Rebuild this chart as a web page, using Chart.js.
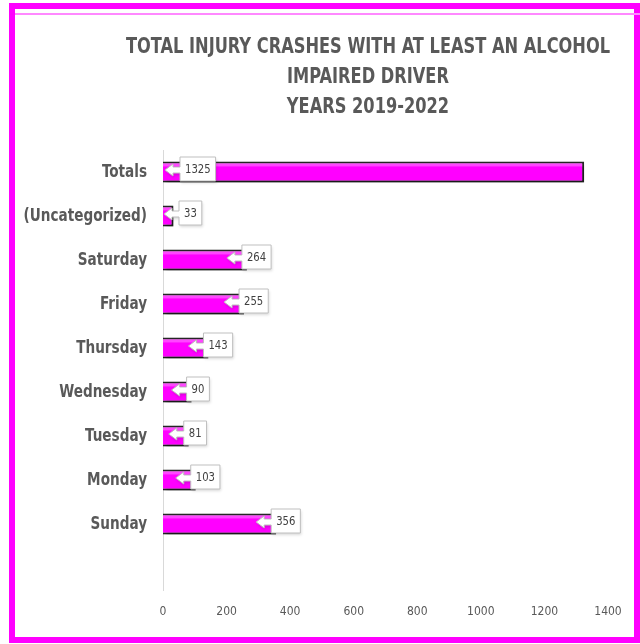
<!DOCTYPE html>
<html>
<head>
<meta charset="utf-8">
<title>Injury crashes with an alcohol impaired driver</title>
<script src="https://cdn.jsdelivr.net/npm/chart.js@4"></script>
<style>
    html, body { margin: 0; padding: 0; background: #fff; }
    #wrap { position: relative; width: 640px; height: 644px; overflow: hidden; }
    #chart { position: absolute; left: 0; top: 0; }
    #frame {
        position: absolute; left: 9px; top: 3px; width: 631px; height: 640px;
        box-sizing: border-box; border: 6px solid #ff00ff; pointer-events: none;
    }
    #frameInner {
        position: absolute; left: 15px; top: 13px; width: 625px; height: 2px;
        background: #ff88ff; pointer-events: none;
    }
</style>
</head>
<body>
<div id="wrap">
    <canvas id="chart" width="640" height="644"></canvas>
    <div id="frame"></div>
    <div id="frameInner"></div>
</div>
<script>
// Chart data
const titleLines = [
    'TOTAL INJURY CRASHES WITH AT LEAST AN ALCOHOL',
    'IMPAIRED DRIVER',
    'YEARS 2019-2022'
];
// top to bottom; the last, empty row is the blank one under Sunday
const days = ['Totals', '(Uncategorized)', 'Saturday', 'Friday', 'Thursday',
              'Wednesday', 'Tuesday', 'Monday', 'Sunday', ''];
const crashes = [1325, 33, 264, 255, 143, 90, 81, 103, 356, null];
const axisMin = 0;
const axisMax = 1400;
const axisStep = 200;

const NARROW = '"DejaVu Sans Condensed", "Liberation Sans", sans-serif';
const GREY = '#595959';

// the reference uses a much narrower face than anything installed,
// so text is squeezed sideways when drawn
function squeezedText(ctx, text, x, y, squeeze) {
    ctx.save();
    ctx.translate(x, y);
    ctx.scale(squeeze, 1);
    ctx.fillText(text, 0, 0);
    ctx.restore();
}

// Title drawn by hand so it can sit over the plot rather than the canvas middle
const titlePlugin = {
    id: 'titleLines',
    afterDraw(chart) {
        const ctx = chart.ctx;
        ctx.save();
        ctx.fillStyle = GREY;
        ctx.font = 'bold 22px ' + NARROW;
        ctx.textAlign = 'center';
        ctx.textBaseline = 'middle';
        titleLines.forEach((line, i) => squeezedText(ctx, line, 368, 47 + i * 30, 0.82));
        ctx.restore();
    }
};

// Category names, squeezed like the title
const dayLabels = {
    id: 'dayLabels',
    afterDraw(chart) {
        const ctx = chart.ctx;
        const y = chart.scales.y;
        ctx.save();
        ctx.fillStyle = GREY;
        ctx.font = 'bold 18px ' + NARROW;
        ctx.textAlign = 'right';
        ctx.textBaseline = 'middle';
        days.forEach((day, i) => {
            if (!day) return;
            squeezedText(ctx, day, y.right - 16, y.getPixelForTick(i), 0.84);
        });
        ctx.restore();
    }
};

// Bar shadow, top highlight and the white arrow callouts
const barDecor = {
    id: 'barDecor',
    beforeDatasetsDraw(chart) {
        const ctx = chart.ctx;
        ctx.save();
        ctx.shadowColor = 'rgba(0, 0, 0, 0.35)';
        ctx.shadowBlur = 4;
        ctx.shadowOffsetX = 2;
        ctx.shadowOffsetY = 3;
    },
    afterDatasetsDraw(chart) {
        const ctx = chart.ctx;
        ctx.restore();

        const meta = chart.getDatasetMeta(0);
        const area = chart.chartArea;
        const base = chart.scales.x.getPixelForValue(0);

        meta.data.forEach((bar, i) => {
            const value = crashes[i];
            if (value === null || value === undefined) return;
            const half = bar.height / 2;

            // lighter stripe along the top of each bar
            ctx.save();
            ctx.fillStyle = 'rgba(255, 255, 255, 0.28)';
            ctx.fillRect(base, bar.y - half + 2, bar.x - base - 2, 3);
            ctx.restore();

            // callout box
            ctx.save();
            ctx.font = '13px ' + NARROW;
            const text = String(value);
            const w = ctx.measureText(text).width * 0.86 + 10;
            const h = 24;
            let bx;
            if (bar.x - base > area.width / 2) {
                bx = base + 17;
            } else {
                bx = Math.max(bar.x - 5, base + 16);
            }
            const by = bar.y - 15;
            const cy = by + h / 2 + 1;

            ctx.beginPath();
            ctx.moveTo(bx, by);
            ctx.lineTo(bx + w, by);
            ctx.lineTo(bx + w, by + h);
            ctx.lineTo(bx, by + h);
            ctx.lineTo(bx, cy + 3);
            ctx.lineTo(bx - 7, cy + 3);
            ctx.lineTo(bx - 7, cy + 6);
            ctx.lineTo(bx - 15, cy);
            ctx.lineTo(bx - 7, cy - 6);
            ctx.lineTo(bx - 7, cy - 3);
            ctx.lineTo(bx, cy - 3);
            ctx.closePath();
            ctx.shadowColor = 'rgba(0, 0, 0, 0.15)';
            ctx.shadowBlur = 3;
            ctx.shadowOffsetX = 1;
            ctx.shadowOffsetY = 2;
            ctx.fillStyle = '#ffffff';
            ctx.fill();
            ctx.shadowColor = 'transparent';
            ctx.strokeStyle = '#bfbfbf';
            ctx.lineWidth = 1;
            ctx.stroke();

            ctx.fillStyle = '#404040';
            ctx.textAlign = 'center';
            ctx.textBaseline = 'middle';
            squeezedText(ctx, text, bx + w / 2, by + h / 2 + 1, 0.86);
            ctx.restore();
        });
    }
};

new Chart(document.getElementById('chart'), {
    type: 'bar',
    data: {
        labels: days,
        datasets: [{
            data: crashes,
            backgroundColor: '#ff00ff',
            borderColor: '#262626',
            borderWidth: 2,
            borderSkipped: 'start',
            categoryPercentage: 1,
            barPercentage: 0.48
        }]
    },
    options: {
        indexAxis: 'y',
        responsive: false,
        animation: false,
        layout: {
            padding: { top: 150, right: 32, bottom: 0, left: 0 }
        },
        plugins: {
            legend: { display: false },
            title: { display: false },
            tooltip: { enabled: false }
        },
        scales: {
            x: {
                min: axisMin,
                max: axisMax,
                grid: { display: false, drawTicks: false },
                border: { display: false },
                ticks: {
                    stepSize: axisStep,
                    color: GREY,
                    padding: 15,
                    font: { family: NARROW, size: 12 },
                    callback: value => String(value)
                },
                afterFit(scale) { scale.height = 54; }
            },
            y: {
                grid: { display: false, drawTicks: false },
                border: { display: true, color: '#d9d9d9', width: 1 },
                ticks: { display: false },
                afterFit(scale) { scale.width = 163; }
            }
        }
    },
    plugins: [barDecor, dayLabels, titlePlugin]
});
</script>
</body>
</html>
